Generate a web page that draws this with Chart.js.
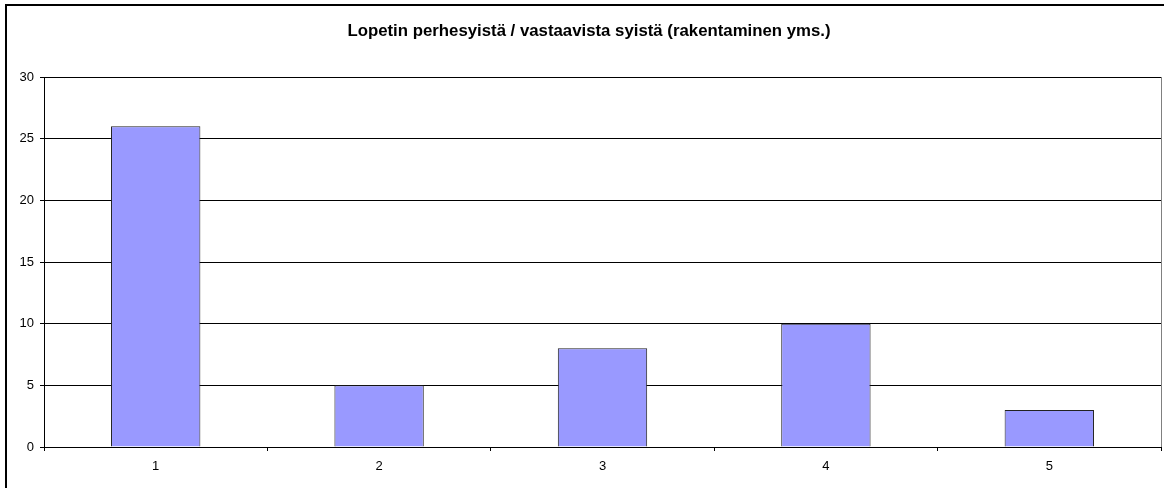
<!DOCTYPE html>
<html>
<head>
<meta charset="utf-8">
<script src="https://cdn.jsdelivr.net/npm/chart.js@4"></script>
<style>
  html, body { margin: 0; padding: 0; background: #fff; }
  #wrap { width: 1164px; height: 488px; }
</style>
</head>
<body>
<div id="wrap"><canvas id="chart" width="1164" height="488"></canvas></div>
<script>
const chartTitle = 'Lopetin perhesyistä / vastaavista syistä (rakentaminen yms.)';
const categories = ['1', '2', '3', '4', '5'];
const values = [26, 5, 8, 10, 3];
const yTicks = [0, 5, 10, 15, 20, 25, 30];

const fontFamily = '"Liberation Sans", Arial, sans-serif';

// outer frame of the chart object and the grey right edge of the plot area
const framePlugin = {
  id: 'frame',
  beforeDraw(chart) {
    const ctx = chart.ctx;
    ctx.save();
    ctx.fillStyle = '#fff';
    ctx.fillRect(0, 0, chart.width, chart.height);
    ctx.fillStyle = '#000';
    ctx.fillRect(5, 4, 2, chart.height);
    ctx.fillRect(5, 4, chart.width, 2);
    ctx.restore();
  },
  afterDraw(chart) {
    const { ctx, chartArea } = chart;
    ctx.save();
    ctx.strokeStyle = '#808080';
    ctx.lineWidth = 1;
    ctx.beginPath();
    ctx.moveTo(chartArea.right + 0.5, chartArea.top);
    ctx.lineTo(chartArea.right + 0.5, chartArea.bottom);
    ctx.stroke();
    ctx.restore();
  },
};

new Chart(document.getElementById('chart'), {
  type: 'bar',
  data: {
    labels: categories,
    datasets: [
      {
        data: values,
        backgroundColor: '#9999ff',
        borderColor: '#222222',
        borderWidth: 1,
        barPercentage: 0.4,
        categoryPercentage: 1,
      },
    ],
  },
  options: {
    responsive: false,
    animation: false,
    layout: { padding: { left: 17, right: 3, top: 0, bottom: 0 } },
    plugins: {
      legend: { display: false },
      tooltip: { enabled: false },
      title: {
        display: true,
        text: chartTitle,
        color: '#000',
        font: { family: fontFamily, size: 16.8, weight: 'bold' },
        padding: { top: 21, bottom: 35.84 },
      },
    },
    scales: {
      x: {
        grid: {
          offset: true,
          drawOnChartArea: false,
          drawTicks: true,
          tickLength: 4,
          color: '#000',
        },
        border: { color: '#000', width: 1 },
        ticks: {
          color: '#000',
          padding: 8,
          maxRotation: 0,
          font: { family: fontFamily, size: 13 },
        },
        afterFit(scale) { scale.height = 41; },
      },
      y: {
        min: 0,
        max: 30,
        grid: { color: '#000', tickLength: 4 },
        border: { color: '#000', width: 1 },
        afterBuildTicks(scale) { scale.ticks = yTicks.map((v) => ({ value: v })); },
        ticks: {
          color: '#000',
          padding: 6,
          font: { family: fontFamily, size: 13 },
        },
        afterFit(scale) { scale.width = 27; },
      },
    },
  },
  plugins: [framePlugin],
});
</script>
</body>
</html>
